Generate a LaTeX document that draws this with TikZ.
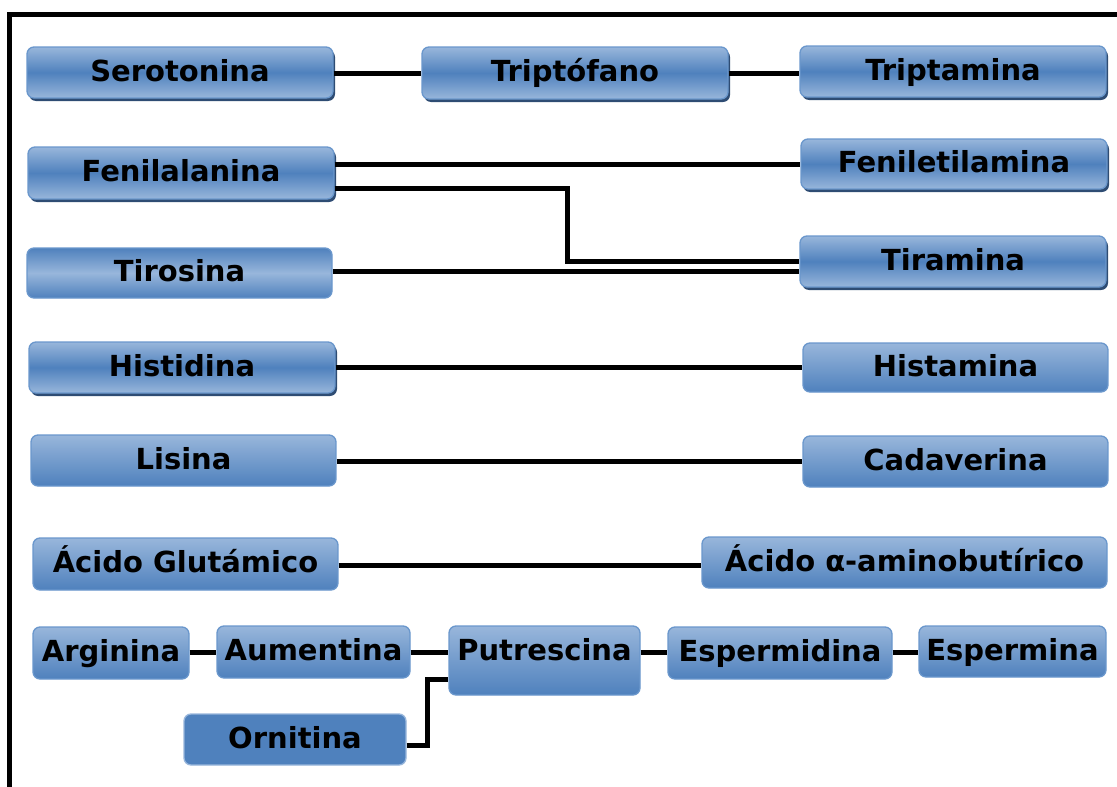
\documentclass[tikz,border=0pt]{standalone}
\usepackage{fontspec}
\setmainfont{DejaVu Sans}
\usetikzlibrary{shadows}
\definecolor{lightb}{HTML}{98B6DB}
\definecolor{darkb}{HTML}{4F81BD}
\definecolor{edgeb}{HTML}{6A97CC}
\definecolor{shadb}{HTML}{2E4C73}
\tikzset{
  base/.style={rounded corners=7pt, draw=edgeb, line width=1.3pt, inner sep=0pt,
    font=\fontsize{29}{32}\selectfont\bfseries, text height=21pt, text depth=4pt},
  plainbox/.style={base, top color=lightb, bottom color=darkb},
  glossbox/.style={base, top color=lightb, bottom color=lightb, middle color=darkb,
    drop shadow={shadow xshift=2pt, shadow yshift=-3pt, fill=shadb, opacity=1}},
  invbox/.style={base, top color=darkb, bottom color=darkb, middle color=lightb},
  flatbox/.style={base, fill=darkb, draw=lightb},
  link/.style={line width=5pt, black},
}
\begin{document}
\begin{tikzpicture}[x=1pt, y=-1pt]
\useasboundingbox (0,0) rectangle (1117,787);
\draw[line width=5pt] (9.5,800) -- (9.5,14.5) -- (1130,14.5);
% row 1
\node[glossbox, minimum width=306pt, minimum height=51pt] (sero) at (180,72.5) {Serotonina};
\node[glossbox, minimum width=306pt, minimum height=52pt] (tripf) at (575,73) {Triptófano};
\node[glossbox, minimum width=306pt, minimum height=51pt] (tripa) at (953,71.5) {Triptamina};
% row 2/3
\node[glossbox, minimum width=306pt, minimum height=52pt] (fenil) at (181,173) {Fenilalanina};
\node[glossbox, minimum width=306pt, minimum height=50pt] (fenet) at (954,164) {Feniletilamina};
\node[invbox, minimum width=305pt, minimum height=50pt] (tiro) at (179.5,273) {Tirosina};
\node[glossbox, minimum width=306pt, minimum height=51pt] (tira) at (953,261.5) {Tiramina};
% row 4
\node[glossbox, minimum width=306pt, minimum height=51pt] (histi) at (182,367.5) {Histidina};
\node[plainbox, minimum width=305pt, minimum height=49pt] (hista) at (955.5,367.5) {Histamina};
% row 5
\node[plainbox, minimum width=305pt, minimum height=51pt] (lisi) at (183.5,460.5) {Lisina};
\node[plainbox, minimum width=305pt, minimum height=51pt] (cada) at (955.5,461.5) {Cadaverina};
% row 6
\node[plainbox, minimum width=305pt, minimum height=52pt] (glu) at (185.5,564) {Ácido Glutámico};
\node[plainbox, minimum width=405pt, minimum height=51pt] (gaba) at (904.5,562.5) {Ácido α-aminobutírico};
% row 7
\node[plainbox, minimum width=156pt, minimum height=52pt] (argi) at (111,653) {Arginina};
\node[plainbox, minimum width=193pt, minimum height=52pt] (aume) at (313.5,652) {Aumentina};
\node[plainbox, minimum width=191pt, minimum height=69pt, text depth=21pt] (putr) at (544.5,660.5) {Putrescina};
\node[plainbox, minimum width=224pt, minimum height=52pt] (espd) at (780,653) {Espermidina};
\node[plainbox, minimum width=187pt, minimum height=51pt] (espm) at (1012.5,651.5) {Espermina};
\node[flatbox, minimum width=222pt, minimum height=51pt] (orni) at (295,739.5) {Ornitina};
% connectors
\draw[link] (sero.east |- 0,73) -- (tripf.west |- 0,73);
\draw[link] (tripf.east |- 0,73) -- (tripa.west |- 0,73);
\draw[link] (fenil.east |- 0,164) -- (fenet.west |- 0,164);
\draw[link] (fenil.east |- 0,188) -- (567,188) |- (tira.west |- 0,261);
\draw[link] (tiro.east |- 0,271) -- (tira.west |- 0,271);
\draw[link] (histi.east |- 0,367) -- (hista.west |- 0,367);
\draw[link] (lisi.east |- 0,461) -- (cada.west |- 0,461);
\draw[link] (glu.east |- 0,565) -- (gaba.west |- 0,565);
\draw[link] (argi.east |- 0,652) -- (aume.west |- 0,652);
\draw[link] (aume.east |- 0,652) -- (putr.west |- 0,652);
\draw[link] (putr.east |- 0,652) -- (espd.west |- 0,652);
\draw[link] (espd.east |- 0,652) -- (espm.west |- 0,652);
\draw[link] (orni.east |- 0,745) -- (427,745) |- (putr.west |- 0,679);
\end{tikzpicture}
\end{document}
